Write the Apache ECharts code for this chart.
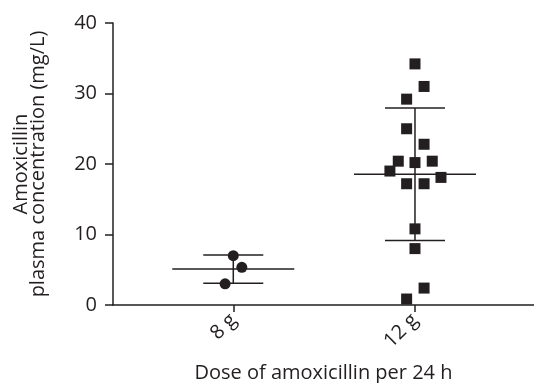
<!DOCTYPE html>
<html>
<head>
<meta charset="utf-8">
<script src="https://cdn.jsdelivr.net/npm/echarts@6/dist/echarts.min.js"></script>
<style>
  html, body { margin: 0; padding: 0; background: #fff; }
  #chart { width: 534px; height: 383px; }
</style>
</head>
<body>
<div id="chart"></div>
<script>
// Doses on the x axis
var doses = ["8 g", "12 g"];

// Individual concentrations (mg/L) and the small horizontal jitter of each point
var values8g = [7.0, 5.35, 3.0];
var jitter8g = [0, 0.047, -0.045];
var values12g = [34.2, 31.0, 29.2, 25.0, 22.8, 20.4, 20.2, 20.4, 19.0, 18.1, 17.2, 17.2, 10.8, 8.0, 2.4, 0.85];
var jitter12g = [0, 0.05, -0.046, -0.046, 0.05, -0.092, 0, 0.095, -0.138, 0.143, -0.046, 0.05, 0, 0, 0.05, -0.046];

// Mean and SD drawn over each group
var means = [5.1, 18.55];
var sds = [2.0, 9.4];

var yTicks = [0, 10, 20, 30, 40];

var ink = "#231f20";
var font = "Open Sans";

var chart = echarts.init(document.getElementById("chart"));

function pts(vals, jit, pos) {
  return vals.map(function (v, i) { return [pos + jit[i], v]; });
}

var summary = means.map(function (m, i) { return [i + 1, m, sds[i]]; });

chart.setOption({
  animation: false,
  grid: { left: 113, right: 0, top: 23, bottom: 78, containLabel: false, outerBoundsMode: "none" },
  xAxis: {
    type: "value",
    min: 0.338,
    max: 2.655,
    name: "Dose of amoxicillin per 24 h",
    nameLocation: "middle",
    nameGap: 58,
    nameTextStyle: { color: ink, fontSize: 20, fontFamily: font },
    splitLine: { show: false },
    axisLine: { lineStyle: { color: ink, width: 1.5 } },
    axisTick: { customValues: [1, 2], length: 7, lineStyle: { color: ink, width: 1.5 } },
    axisLabel: {
      customValues: [1, 2],
      rotate: 45,
      margin: 12,
      color: ink,
      fontSize: 20,
      fontFamily: font,
      formatter: function (v) { return doses[Math.round(v) - 1]; }
    }
  },
  yAxis: {
    type: "value",
    min: yTicks[0],
    max: yTicks[yTicks.length - 1],
    interval: 10,
    name: "Amoxicillin\nplasma concentration (mg/L)",
    nameLocation: "middle",
    nameGap: 66,
    nameTextStyle: { color: ink, fontSize: 20, fontFamily: font, lineHeight: 17 },
    splitLine: { show: false },
    axisLine: { show: true, lineStyle: { color: ink, width: 1.5 } },
    axisTick: { show: true, length: 8, lineStyle: { color: ink, width: 1.5 } },
    axisLabel: { margin: 16, color: ink, fontSize: 20, fontFamily: font }
  },
  series: [
    {
      type: "custom",
      data: summary,
      z: 2,
      renderItem: function (params, api) {
        var x = api.value(0), m = api.value(1), s = api.value(2);
        var c = api.coord([x, m]);
        var top = api.coord([x, m + s]);
        var bot = api.coord([x, m - s]);
        var style = { stroke: ink, lineWidth: 1.5 };
        return {
          type: "group",
          children: [
            { type: "line", shape: { x1: c[0] - 61, y1: c[1], x2: c[0] + 61, y2: c[1] }, style: style },
            { type: "line", shape: { x1: c[0] - 30, y1: top[1], x2: c[0] + 30, y2: top[1] }, style: style },
            { type: "line", shape: { x1: c[0] - 30, y1: bot[1], x2: c[0] + 30, y2: bot[1] }, style: style },
            { type: "line", shape: { x1: c[0], y1: top[1], x2: c[0], y2: bot[1] }, style: style }
          ]
        };
      }
    },
    {
      type: "scatter",
      data: pts(values8g, jitter8g, 1),
      symbol: "circle",
      symbolSize: 11,
      itemStyle: { color: ink, opacity: 1 },
      z: 3
    },
    {
      type: "scatter",
      data: pts(values12g, jitter12g, 2),
      symbol: "rect",
      symbolSize: 11,
      itemStyle: { color: ink, opacity: 1 },
      z: 3
    }
  ]
});
</script>
</body>
</html>
